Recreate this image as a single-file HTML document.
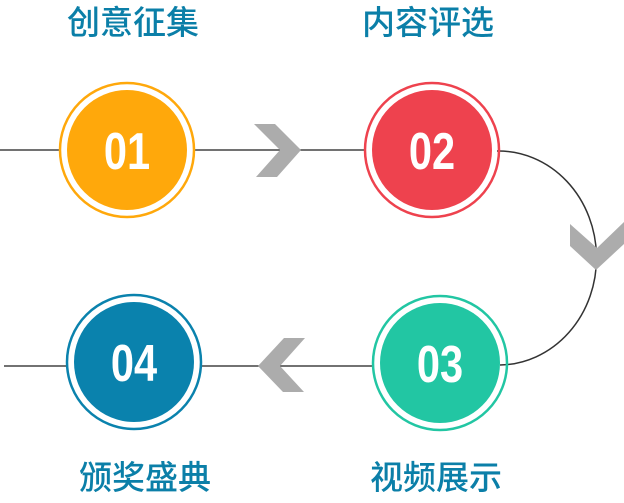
<!DOCTYPE html>
<html><head><meta charset="utf-8"><style>
html,body{margin:0;padding:0;background:#fff;}
svg{display:block}
text.l{font-family:"Liberation Sans","Noto Sans CJK SC",sans-serif;font-size:33px;font-weight:500;fill:#0b7fa8;text-anchor:middle}
text.n{font-family:"Liberation Sans",sans-serif;font-weight:bold;font-size:52px;fill:#fff;text-anchor:middle}
</style></head><body>
<svg width="624" height="503" viewBox="0 0 624 503">
<line x1="0" y1="150" x2="60" y2="150" stroke="#444" stroke-width="1.5"/>
<line x1="194" y1="150" x2="366" y2="150" stroke="#444" stroke-width="1.5"/>
<line x1="4" y1="366" x2="68" y2="366" stroke="#444" stroke-width="1.5"/>
<line x1="200" y1="366" x2="372" y2="366" stroke="#444" stroke-width="1.5"/>
<path d="M497 151 A98 107 0 0 1 500 365" fill="none" stroke="#333" stroke-width="1.5"/>
<polygon points="254,124 275,124 301,150 277,177 256,177 280,150" fill="#acacac"/>
<polygon points="570,224 570,246 596,270 624,244 624,222 597,248" fill="#acacac"/>
<polygon points="305,338 284,338 258,366 283,392 304,392 280,366" fill="#acacac"/>
<g>
<circle cx="127" cy="150" r="67" fill="none" stroke="#ffa80b" stroke-width="2.5"/>
<circle cx="127" cy="150" r="60" fill="#ffa80b"/>
<text class="n" transform="translate(127 169) scale(0.8 1)" x="0" y="0">01</text>
</g>
<g>
<circle cx="432" cy="150" r="67" fill="none" stroke="#ee424e" stroke-width="2.5"/>
<circle cx="432" cy="150" r="60" fill="#ee424e"/>
<text class="n" transform="translate(432 169) scale(0.8 1)" x="0" y="0">02</text>
</g>
<g>
<circle cx="440" cy="363" r="67" fill="none" stroke="#22c6a3" stroke-width="2.5"/>
<circle cx="440" cy="363" r="60" fill="#22c6a3"/>
<text class="n" transform="translate(440 382) scale(0.8 1)" x="0" y="0">03</text>
</g>
<g>
<circle cx="134" cy="362" r="67" fill="none" stroke="#0a82ad" stroke-width="2.5"/>
<circle cx="134" cy="362" r="60" fill="#0a82ad"/>
<text class="n" transform="translate(134 381) scale(0.8 1)" x="0" y="0">04</text>
</g>
<text class="l" x="133" y="34">创意征集</text>
<text class="l" x="428" y="34">内容评选</text>
<text class="l" x="436" y="489">视频展示</text>
<text class="l" x="145" y="489">颁奖盛典</text>
</svg>
</body></html>
